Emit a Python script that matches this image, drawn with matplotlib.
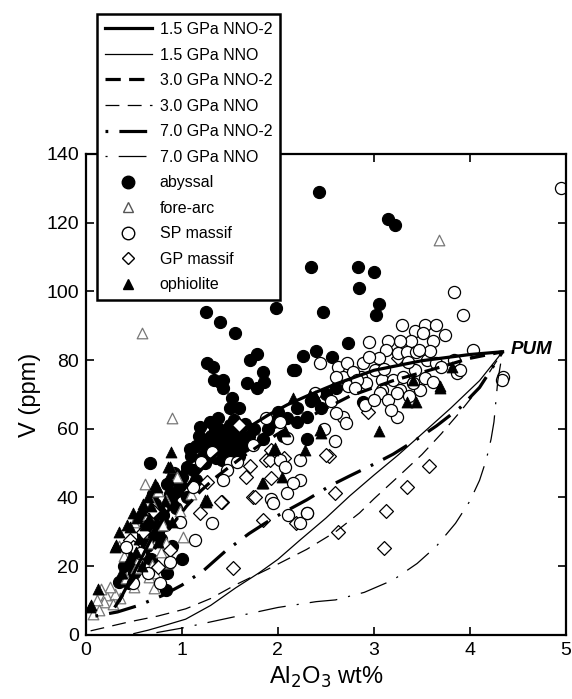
import matplotlib.pyplot as plt
from matplotlib.lines import Line2D

plt.rcParams['font.family'] = ['Liberation Sans', 'DejaVu Sans']
plt.rcParams['lines.scale_dashes'] = False

# model curves (Al2O3 wt%, V ppm)
m15_nno2_x = [0.35, 0.5, 0.7, 0.9, 1.1, 1.3, 1.5, 1.7, 1.9, 2.1, 2.3, 2.6, 3.0, 3.5, 4.0, 4.34]
m15_nno2_y = [10, 18, 29, 38, 45, 51, 56, 60.5, 64, 67, 69.5, 73, 77, 79.8, 81.6, 82.4]
m15_nno_x = [0.5, 0.65, 0.8, 1.04, 1.3, 1.56, 1.8, 2.0, 2.23, 2.5, 2.75, 3.0, 3.25, 3.5, 3.8, 4.1, 4.34]
m15_nno_y = [0.4, 1.4, 2.6, 4.6, 8.6, 13.7, 18, 22, 27.6, 34, 40.5, 46.5, 52.3, 58.5, 66, 74, 82.4]
m30_nno2_x = [0.3, 0.45, 0.6, 0.75, 0.9, 1.05, 1.2, 1.35, 1.5, 1.65, 1.8, 2.0, 2.2, 2.4, 2.75, 3.2, 3.7, 4.0, 4.34]
m30_nno2_y = [8, 14.5, 20, 26.5, 32, 37.5, 42, 45.8, 49, 52.2, 55, 58.5, 61.8, 64.5, 69.5, 74, 78, 80.5, 82.4]
m30_nno_x = [0.05, 0.45, 0.75, 1.04, 1.3, 1.56, 1.9, 2.3, 2.6, 2.85, 3.0, 3.25, 3.5, 3.7, 3.9, 4.1, 4.34]
m30_nno_y = [1.2, 3.8, 5.5, 7.6, 10.6, 14.6, 19.2, 24.9, 30, 35.5, 39.6, 46, 52.5, 58.5, 65, 72, 82.4]
m70_nno2_x = [0.1, 0.33, 0.55, 0.8, 1.0, 1.22, 1.45, 1.7, 1.95, 2.3, 2.55, 2.75, 3.0, 3.2, 3.45, 3.65, 3.9, 4.1, 4.34]
m70_nno2_y = [5.5, 6.7, 8.6, 11.5, 14.5, 18.6, 24.3, 29.5, 34, 39.3, 43.5, 46.3, 49.7, 52.6, 57, 60.8, 66.2, 72, 82.4]
m70_nno_x = [0.6, 1.0, 1.5, 2.0, 2.4, 2.6, 2.9, 3.2, 3.45, 3.65, 3.85, 4.0, 4.1, 4.17, 4.22, 4.25, 4.27, 4.29, 4.34]
m70_nno_y = [0, 2, 5, 8, 9.7, 10.2, 12.4, 16, 20.8, 25.8, 32.5, 39, 45, 51, 57, 62, 68, 74, 82.4]

# samples
abyssal_x = [2.43, 3.15, 3.22, 2.34, 2.83, 3.0, 2.84, 3.05, 3.02, 2.47, 1.25, 1.4, 1.55, 1.98, 2.73,
             2.4, 2.26, 2.56, 1.26, 1.32, 1.71, 1.78, 1.84, 1.86, 1.34, 1.43, 1.68, 1.78, 2.18, 1.4,
             1.43, 1.52, 1.5, 1.6, 1.38, 1.29, 1.19, 2.16, 2.3, 2.2,
             1.2, 1.25, 1.3, 1.35, 1.4, 1.45, 1.5, 1.55, 1.6, 1.65, 1.3, 1.42, 1.55, 1.7, 1.35,
             1.48, 1.58, 1.28, 1.62, 1.38, 1.5, 1.22, 1.45, 1.6, 1.75, 1.15, 1.1, 1.05, 1.0, 1.12,
             1.33, 1.44, 1.52, 1.47, 1.37, 1.27, 1.57, 1.41, 1.49, 1.36, 1.18, 1.08, 1.24, 1.66, 1.54,
             0.95, 0.9, 0.85, 0.8, 0.75, 0.7, 0.65, 0.6, 0.55, 0.5, 0.45, 0.83, 0.35, 0.9, 1.0,
             0.62, 0.72, 1.05, 0.58, 0.68, 0.85, 0.4, 1.15, 0.67, 0.55, 0.78, 0.92, 0.5,
             0.98, 0.88, 0.76, 0.64, 0.7, 0.6, 0.52, 0.47, 0.82, 0.94,
             2.0, 2.1, 2.2, 2.35, 2.5, 2.45, 1.9, 2.05, 2.3, 2.6, 2.89, 1.85, 1.95]
abyssal_y = [129, 121, 119.3, 107, 107, 105.6, 101, 96.3, 93.1, 94, 94, 91, 88, 95.2, 85,
             82.7, 81.2, 80.9, 79.2, 78, 80, 81.8, 76.5, 73.6, 74.2, 74.2, 73.3, 71.9, 77.1, 73.6,
             71.9, 69, 66, 66, 63.2, 62, 60.5, 77, 63.4, 62,
             57, 55, 58, 53, 56, 59, 54, 57, 52, 55, 52, 51, 60, 58, 60,
             56, 54, 54, 58, 57, 61, 52, 53, 56, 60, 55, 52, 49, 46, 48,
             55.5, 54.5, 58.5, 57.5, 54.5, 57, 55.5, 59.5, 52.5, 51.5, 58, 54, 50, 61.5, 62.5,
             42, 38, 44, 35, 30, 33, 28, 24, 21, 18, 15, 13, 15.4, 26, 22,
             31, 38, 40, 35, 22, 18, 20, 45, 50, 22.7, 28, 47, 24,
             44, 41, 36, 26, 41, 29, 19, 21, 32, 37,
             65, 63, 66, 68, 70, 66, 60, 58, 57, 72, 67.9, 57, 62]

forearc_x = [0.58, 3.68, 0.9, 0.21, 0.19, 0.12, 0.14, 0.36, 0.42, 0.52, 0.69, 0.66, 0.71, 1.01, 0.83,
             0.69, 0.83, 0.8, 0.88, 0.67, 0.3, 0.25, 0.6, 0.75, 0.5, 0.95, 0.55, 0.4, 0.65, 0.78,
             1.1, 0.08, 0.45, 0.62, 0.98, 0.16, 0.28, 0.5, 0.72, 0.86, 0.35]
forearc_y = [88, 115, 63, 11.6, 9.7, 10.2, 7.3, 10.7, 16.5, 19.4, 20.4, 17, 13.6, 28.6, 39.3,
             38.3, 26.7, 32, 49, 26.7, 12, 14, 30, 42, 33, 46, 22, 23, 35, 24,
             41, 6, 28, 44, 36, 13.5, 9, 14, 18, 21, 26]

sp_x = [4.95, 3.83, 3.93, 4.34, 3.29, 3.43, 3.53, 3.65, 3.74, 3.62, 3.51, 3.39, 3.27, 3.15, 2.95,
        3.13, 3.25, 3.34, 3.44, 3.55, 3.65, 3.83, 4.03, 3.86, 2.44, 2.63, 2.72, 2.89, 3.01, 2.87,
        2.68, 2.78, 3.08, 3.2, 3.3, 3.43, 3.53, 3.62, 3.27, 3.08, 2.92, 2.73, 2.61,
        2.82, 3.06, 3.15, 3.24, 3.24, 3.18, 3.37, 3.48, 3.41, 2.91, 2.68, 2.71, 2.61, 2.59, 2.23,
        2.23, 2.3, 2.23, 4.33, 2.39, 1.88, 2.02, 2.09, 1.74, 1.5, 1.47, 1.43, 1.31, 1.2, 1.57,
        2.02, 2.07, 2.16, 2.09, 1.93, 1.95, 2.11, 2.3, 1.31, 1.12, 0.98, 1.14, 0.88, 0.65, 0.49,
        0.77, 0.56, 0.42, 3.05, 3.58, 3.7, 2.55, 2.48, 3.0, 3.9, 2.95, 3.36, 3.1, 2.8, 3.47]
sp_y = [130, 99.8, 93, 75, 90.2, 88.3, 90.2, 90.2, 87.3, 85.4, 87.8, 85.4, 85.4, 85.4, 85.1,
        82.9, 82, 82.4, 82.4, 80, 79.1, 80, 82.9, 76.2, 79.1, 78, 79.1, 79.1, 77.1, 75.2,
        75.2, 76.6, 74.2, 74.2, 75.2, 77.1, 74.8, 73.7, 71.3, 71.3, 73.3, 72.3, 75.2,
        74.2, 70.3, 68.4, 70.3, 63.5, 65.5, 69.4, 71.3, 73.3, 66.9, 63.5, 61.6, 64.5, 56.3, 50.9,
        45.1, 35.4, 32.5, 74.2, 70.4, 63.1, 62.1, 57.2, 55.3, 50.4, 48, 45.1, 53.3, 50.4, 50.4,
        50.9, 49, 44.2, 41.3, 39.7, 38.4, 34.9, 35.4, 32.5, 43.1, 33, 27.6, 21.3, 17.9, 15,
        15, 23.8, 25.7, 80.5, 82.5, 78, 68, 60, 68.5, 77, 81, 79.5, 77.5, 72, 83]

gp_x = [2.53, 3.57, 3.34, 2.59, 3.13, 2.63, 3.1, 2.94, 3.25, 2.5, 1.67, 1.93, 2.06, 1.74, 1.85,
        2.19, 1.42, 1.19, 1.26, 1.53, 0.46, 0.49, 1.93, 1.88, 0.75, 0.88, 1.6, 1.76, 1.41, 1.92,
        1.71, 0.6, 0.7]
gp_y = [52.1, 49.2, 43.1, 41.2, 36.1, 30.1, 25.2, 65, 80.5, 52.4, 46.1, 45.6, 51.4, 40.2, 33.5,
        32.5, 38.8, 35.4, 44.6, 19.4, 27.6, 25.7, 53.8, 50.9, 19.9, 24.7, 61.1, 40.2, 38.8, 50.9,
        49.2, 30, 36]

ophiolite_x = [0.04, 0.13, 0.37, 0.3, 0.46, 0.49, 0.68, 0.74, 0.86, 0.89, 1.05, 0.86, 1.26, 1.83, 2.04,
               1.95, 2.28, 2.44, 2.16, 2.33, 2.07, 3.05, 2.39, 3.34, 3.44, 3.69, 3.41, 3.81, 3.69, 2.4,
               2.45, 0.88, 1.03, 1.85, 1.97, 1.24, 0.31, 0.43, 0.59, 0.38, 0.05, 1.25, 0.55, 0.62,
               0.7, 0.8, 0.52, 0.65, 0.75, 0.95, 0.58, 0.45, 0.35, 0.9, 0.6, 0.72, 0.82, 0.53, 0.66]
ophiolite_y = [8.2, 13.5, 17.9, 25.7, 31.5, 35.4, 37.4, 43.1, 45.6, 53.3, 48.5, 49, 39.3, 44.2, 46.1,
               53.8, 53.8, 59.7, 68.9, 69.9, 59.2, 59.2, 69.4, 67.9, 67.9, 71.8, 74.2, 78.1, 72.3, 68.9,
               58.7, 49, 49, 44.1, 54.3, 39.3, 26.2, 32, 36.4, 17.9, 8.7, 38.8, 28, 32,
               30, 36, 24, 40, 27, 42, 20, 22, 30, 33, 38, 44, 39, 34, 34]

fig = plt.figure(figsize=(5.72, 6.99), dpi=100)
ax = fig.add_axes([0.150, 0.0916, 0.8395, 0.6884])

ms = 76
ax.scatter(abyssal_x, abyssal_y, s=ms, marker='o', facecolor='black', edgecolor='black', linewidth=0.8, zorder=2)
ax.scatter(forearc_x, forearc_y, s=58, marker='^', facecolor='white', edgecolor='#777777', linewidth=0.9, zorder=2)
ax.scatter(gp_x, gp_y, s=50, marker='D', facecolor='white', edgecolor='black', linewidth=0.9, zorder=2)
ax.scatter(sp_x, sp_y, s=ms, marker='o', facecolor='white', edgecolor='black', linewidth=0.9, zorder=2)
ax.scatter(ophiolite_x, ophiolite_y, s=62, marker='^', facecolor='black', edgecolor='black', linewidth=0.6, zorder=2)

thick, thin = 2.3, 0.9
styles = [
    ('1.5 GPa NNO-2', m15_nno2_x, m15_nno2_y, thick, '-'),
    ('1.5 GPa NNO', m15_nno_x, m15_nno_y, thin, '-'),
    ('3.0 GPa NNO-2', m30_nno2_x, m30_nno2_y, thick, (0, (11, 6))),
    ('3.0 GPa NNO', m30_nno_x, m30_nno_y, thin, (0, (10, 6))),
    ('7.0 GPa NNO-2', m70_nno2_x, m70_nno2_y, thick, (0, (2, 8, 20, 8))),
    ('7.0 GPa NNO', m70_nno_x, m70_nno_y, thin, (0, (1.5, 8, 20, 8))),
]
handles = []
for label, xs, ys, lw, ls in styles:
    ax.plot(xs, ys, color='black', linewidth=lw, linestyle=ls, zorder=3)
    handles.append(Line2D([], [], color='black', linewidth=lw, linestyle=ls, label=label))

handles += [
    Line2D([], [], linestyle='none', marker='o', markersize=9, markerfacecolor='black', markeredgecolor='black', label='abyssal'),
    Line2D([], [], linestyle='none', marker='^', markersize=7, markerfacecolor='white', markeredgecolor='#555555', label='fore-arc'),
    Line2D([], [], linestyle='none', marker='o', markersize=9, markerfacecolor='white', markeredgecolor='black', label='SP massif'),
    Line2D([], [], linestyle='none', marker='D', markersize=6.5, markerfacecolor='white', markeredgecolor='black', label='GP massif'),
    Line2D([], [], linestyle='none', marker='^', markersize=7.5, markerfacecolor='black', markeredgecolor='black', label='ophiolite'),
]

ax.text(4.42, 83, 'PUM', fontsize=13.5, fontweight='bold', fontstyle='italic', va='center', ha='left', zorder=4)

ax.set_xlim(0, 5)
ax.set_ylim(0, 140)
ax.set_xticks(range(0, 6))
ax.set_yticks(range(0, 141, 20))
ax.tick_params(direction='in', length=6, width=1.2, top=True, right=True, labelsize=14, pad=5)
for sp in ax.spines.values():
    sp.set_linewidth(1.6)
ax.set_ylabel('V (ppm)', fontsize=17, labelpad=4)
ax.set_xlabel('Al$_2$O$_3$ wt%', fontsize=17, labelpad=4)

leg = fig.legend(handles=handles, loc='upper left', bbox_to_anchor=(0.170, 0.980), borderaxespad=0,
                 fontsize=11.5, frameon=True, fancybox=False, framealpha=1, edgecolor='black',
                 handlelength=2.9, labelspacing=0.66, borderpad=0.5, handletextpad=0.5)
leg.get_frame().set_linewidth(1.8)

fig.savefig('out.png', dpi=100)
